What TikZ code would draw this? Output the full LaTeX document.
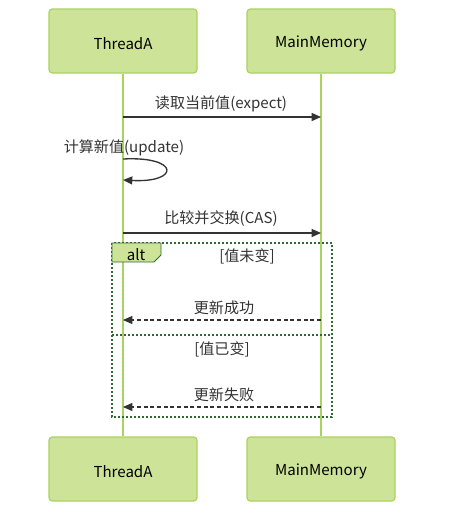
\documentclass[tikz,border=0pt]{standalone}
\usepackage{fontspec}
\setmainfont{Noto Sans CJK SC}
\usetikzlibrary{arrows.meta}
\definecolor{actfill}{HTML}{CDE498}
\definecolor{actdraw}{HTML}{A9D35F}
\definecolor{lifeline}{HTML}{A9D35F}
\definecolor{framec}{HTML}{326932}
\definecolor{txt}{HTML}{333333}
\tikzset{
  actor/.style={draw=actdraw, fill=actfill, line width=0.9pt, rounded corners=2.5pt,
    minimum width=148*0.75pt, minimum height=64*0.75pt, inner sep=0pt,
    font=\fontsize{11.3pt}{13pt}\selectfont, text=black},
  atext/.style={font=\fontsize{11.3pt}{13pt}\selectfont, text=black, inner sep=0pt},
  life/.style={draw=lifeline, line width=1.4pt},
  msg/.style={draw=txt, line width=1pt, -{Triangle[length=7pt,width=6pt]}},
  ret/.style={msg, dash pattern=on 3pt off 2pt},
  lbl/.style={font=\fontsize{11.3pt}{13pt}\selectfont, text=txt, inner sep=0pt},
  frm/.style={draw=framec, line width=1pt, dash pattern=on 1.5pt off 1.5pt},
  tabline/.style={draw=framec, fill=actfill, line width=0.6pt},
}
\begin{document}
\begin{tikzpicture}[x=0.75pt, y=-0.75pt]
\useasboundingbox (0,0) rectangle (452,521);
% participants
\node[actor] (ta) at (123,41) {};
\node[actor] (mm) at (321,41) {};
\node[actor] (tb) at (123,469) {};
\node[actor] (mb) at (321,469) {};
\node[atext] (tat) at (123,43.5) {ThreadA};
\node[atext] (mmt) at (321,43.5) {MainMemory};
\node[atext] (tbt) at (123,471.5) {ThreadA};
\node[atext] (mbt) at (321,471.5) {MainMemory};
% lifelines
\draw[life] (ta.south) -- (tb.north);
\draw[life] (mm.south) -- (mb.north);
% alt frame
\coordinate (f1) at (112,243);
\coordinate (f2) at (332,417);
\coordinate (d1) at (112,335);
\coordinate (d2) at (332,335);
\draw[frm] (f1) rectangle (f2);
\draw[frm] (d1) -- (d2);
\draw[tabline] (112,243) -- (161,243) -- (161,255) -- (154,262) -- (112,262) -- cycle;
\node[lbl, text=black] (alt) at (136,254.5) {alt};
\node[lbl] (c1) at (247,256) {[值未变]};
\node[lbl] (c2) at (222,349) {[值已变]};
% messages
\coordinate (a1) at (123,117); \coordinate (b1) at (321,117);
\draw[msg] (a1) -- (b1);
\node[lbl] (l1) at (221,104) {读取当前值(expect)};
\node[lbl] (l2) at (124,148) {计算新值(update)};
\coordinate (s1) at (123,159); \coordinate (s2) at (123,180);
\draw[msg] (s1) .. controls (180,156) and (180,183) .. (s2);
\coordinate (a3) at (123,233); \coordinate (b3) at (321,233);
\draw[msg] (a3) -- (b3);
\node[lbl] (l3) at (221,219) {比较并交换(CAS)};
\coordinate (a4) at (321,320); \coordinate (b4) at (123,320);
\draw[ret] (a4) -- (b4);
\node[lbl] (l4) at (224,308) {更新成功};
\coordinate (a5) at (321,407); \coordinate (b5) at (123,407);
\draw[ret] (a5) -- (b5);
\node[lbl] (l5) at (224,395) {更新失败};
\end{tikzpicture}
\end{document}
